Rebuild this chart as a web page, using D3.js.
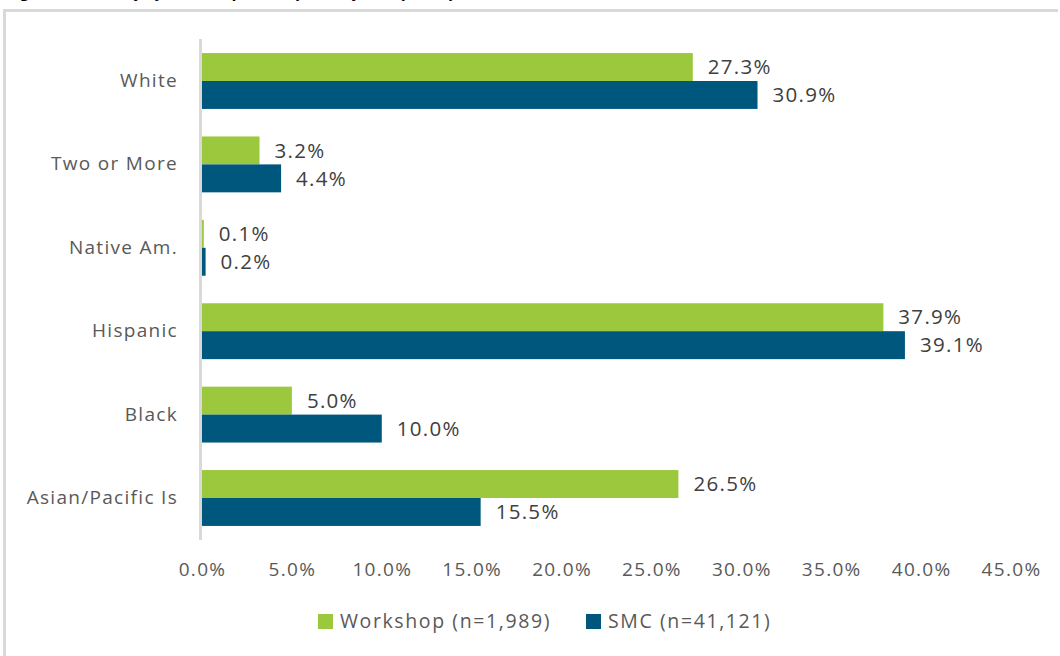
<!DOCTYPE html>
<html>
<head>
<meta charset="utf-8">
<script src="https://cdn.jsdelivr.net/npm/d3@7"></script>
<style>
  html, body { margin: 0; padding: 0; background: #fff; }
  svg { display: block; }
  text { font-family: "Open Sans", "Segoe UI", sans-serif; }
</style>
</head>
<body>
<svg id="chart" width="1060" height="656"></svg>
<script>
// Ethnicity breakdown: workshop participants vs. college population
const categories = ["White", "Two or More", "Native Am.", "Hispanic", "Black", "Asian/Pacific Is"];
const workshopValues = [27.3, 3.2, 0.1, 37.9, 5.0, 26.5];
const smcValues = [30.9, 4.4, 0.2, 39.1, 10.0, 15.5];
const seriesNames = ["Workshop (n=1,989)", "SMC (n=41,121)"];
const seriesColors = ["#9BC83C", "#00577E"];
const tickValues = [0, 5, 10, 15, 20, 25, 30, 35, 40, 45];

const svg = d3.select("#chart");

// Outer frame (top and left edges visible)
svg.append("line").attr("x1", 3).attr("x2", 1058).attr("y1", 10.5).attr("y2", 10.5)
  .attr("stroke", "#d9d9d9").attr("stroke-width", 3);
svg.append("line").attr("x1", 4.5).attr("x2", 4.5).attr("y1", 9).attr("y2", 656)
  .attr("stroke", "#d9d9d9").attr("stroke-width", 3);

// Figure caption above the frame
svg.append("text").attr("x", 8).attr("y", -3)
  .attr("font-size", 16).attr("font-weight", "bold").attr("font-style", "italic")
  .attr("fill", "#000")
  .text("Figure 6. Ethnicity of Workshop Participants by Group Comparison");

const x = d3.scaleLinear().domain([0, 45]).range([202, 1011]);
const y = d3.scaleBand().domain(categories).range([39.3, 539.7]).paddingInner(0.33).paddingOuter(0.165);
const sub = d3.scaleBand().domain([0, 1]).range([0, y.bandwidth()]);

const rows = categories.map((c, i) => ({ c, vals: [workshopValues[i], smcValues[i]] }));

const groups = svg.append("g").selectAll("g").data(rows).join("g")
  .attr("transform", d => `translate(0,${y(d.c)})`);

groups.selectAll("rect").data(d => d.vals).join("rect")
  .attr("x", x(0))
  .attr("y", (v, j) => sub(j))
  .attr("width", v => x(v) - x(0))
  .attr("height", sub.bandwidth())
  .attr("fill", (v, j) => seriesColors[j]);

groups.selectAll("text.val").data(d => d.vals).join("text")
  .attr("class", "val")
  .attr("x", v => x(v) + 15)
  .attr("y", (v, j) => sub(j) + sub.bandwidth() / 2)
  .attr("dy", "0.35em")
  .attr("font-size", 20.5)
  .attr("letter-spacing", 1.3)
  .attr("fill", "#404040")
  .text(v => v.toFixed(1) + "%");

// Category axis line
svg.append("line").attr("x1", 200.5).attr("x2", 200.5).attr("y1", 39).attr("y2", 540)
  .attr("stroke", "#d9d9d9").attr("stroke-width", 3);

// Category labels
const yAxis = svg.append("g").attr("transform", "translate(178,0)")
  .call(d3.axisLeft(y).tickSize(0).tickPadding(0));
yAxis.select(".domain").remove();
yAxis.selectAll("text").attr("font-size", 19).attr("fill", "#595959")
  .attr("letter-spacing", 1.3)
  .attr("font-family", "'Open Sans', sans-serif");

// Value axis tick labels
const xAxis = svg.append("g").attr("transform", "translate(0,562)")
  .call(d3.axisBottom(x).tickValues(tickValues).tickSize(0).tickPadding(0)
    .tickFormat(d => d.toFixed(1) + "%"));
xAxis.select(".domain").remove();
xAxis.selectAll("text").attr("font-size", 19).attr("fill", "#595959")
  .attr("letter-spacing", 1.3)
  .attr("font-family", "'Open Sans', sans-serif").attr("dy", "0.71em");

// Legend
const legendX = [318, 586];
const legend = svg.append("g").selectAll("g").data(seriesNames).join("g")
  .attr("transform", (d, i) => `translate(${legendX[i]},614)`);
legend.append("rect").attr("width", 15).attr("height", 15).attr("fill", (d, i) => seriesColors[i]);
legend.append("text").attr("x", 22).attr("y", 7.5).attr("dy", "0.35em")
  .attr("font-size", 19.5).attr("letter-spacing", 1.6)
  .attr("fill", "#595959").text(d => d);
</script>
</body>
</html>
